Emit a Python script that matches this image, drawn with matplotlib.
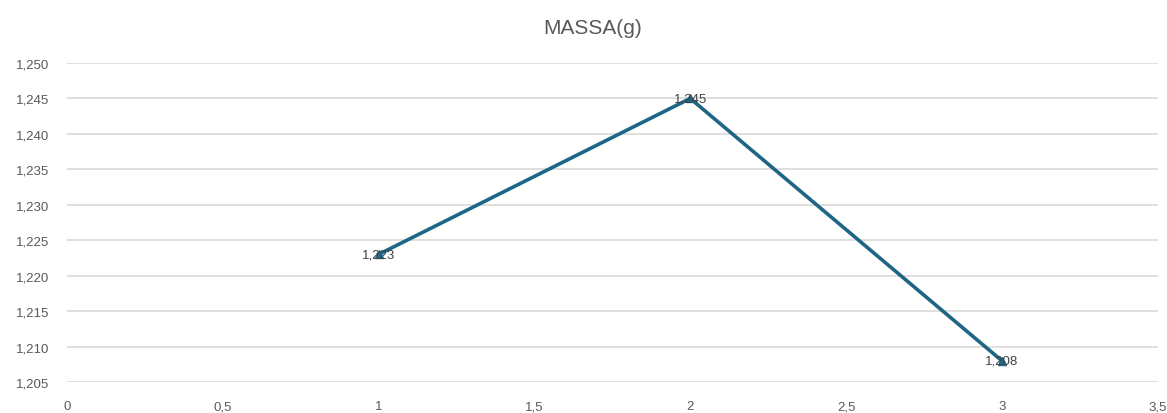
import matplotlib.pyplot as plt
from matplotlib.ticker import FuncFormatter

# mass readings per sample
amostras = [1, 2, 3]
massa = [1.223, 1.245, 1.208]
titulo = "MASSA(g)"

plt.rcParams['font.family'] = ['Liberation Sans', 'DejaVu Sans']

fig = plt.figure(figsize=(11.67, 4.14), dpi=100)
ax = fig.add_axes([0.0574, 0.0749, 0.9346, 0.7705])

ax.plot(amostras, massa, color='#1f6685', lw=2.6, marker='^', ms=6, zorder=3)
for x, y in zip(amostras, massa):
    ax.text(x, y, f"{y:.3f}".replace('.', ','), ha='center', va='center',
            fontsize=9.5, color='#404040', zorder=4)

ax.set_xlim(0, 3.5)
ax.set_ylim(1.205, 1.250)
ax.set_xticks([0, 0.5, 1, 1.5, 2, 2.5, 3, 3.5])
ax.set_yticks([1.205 + 0.005 * i for i in range(10)])

ax.xaxis.set_major_formatter(FuncFormatter(lambda v, p: f"{v:g}".replace('.', ',')))
ax.yaxis.set_major_formatter(FuncFormatter(lambda v, p: f"{v:.3f}".replace('.', ',')))

ax.grid(axis='y', color='#dcdcdc', lw=1.3)
ax.set_axisbelow(True)
for s in ax.spines.values():
    s.set_visible(False)
ax.tick_params(length=0, labelsize=9.5, labelcolor='#595959')
ax.tick_params(axis='y', pad=13)
ax.tick_params(axis='x', pad=13)

fig.text(0.508, 0.932, titulo, ha='center', va='center', fontsize=15, color='#595959')

fig.savefig('out.png', dpi=100)
